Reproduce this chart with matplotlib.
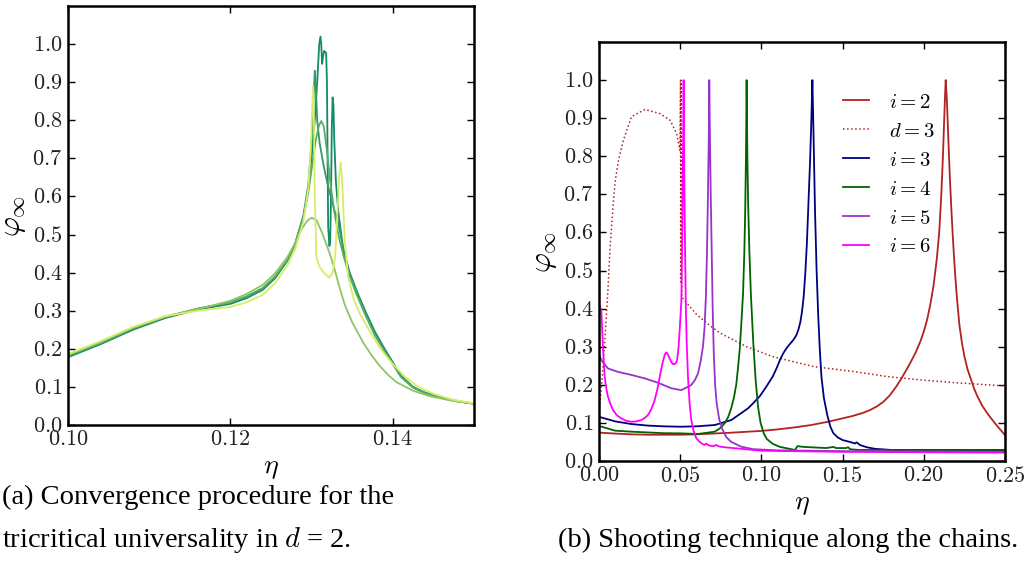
import matplotlib
matplotlib.use("Agg")
import matplotlib.pyplot as plt
from matplotlib.ticker import FuncFormatter, MultipleLocator, FixedLocator

plt.rcParams["mathtext.fontset"] = "cm"
plt.rcParams["font.family"] = ["Liberation Serif", "DejaVu Serif"]

# (a) convergence procedure, tricritical d = 2
eta_c = [0.100, 0.104, 0.108, 0.112, 0.116, 0.120, 0.122, 0.124, 0.1255, 0.127, 0.128, 0.129,
         0.1296, 0.1300, 0.1304, 0.1307, 0.13095, 0.1311, 0.1312, 0.1313, 0.1314, 0.13155,
         0.1318, 0.1319, 0.13198, 0.13205, 0.1322, 0.1323, 0.1324, 0.1325, 0.1326, 0.1327,
         0.1328, 0.1330, 0.1333, 0.1339, 0.1347, 0.1356, 0.1366, 0.1378, 0.1390, 0.1400,
         0.1410, 0.1425, 0.1440, 0.1460, 0.1480, 0.1500]
phi_c = [0.178, 0.212, 0.250, 0.281, 0.303, 0.318, 0.333, 0.355, 0.385, 0.430, 0.475, 0.545,
         0.62, 0.70, 0.80, 0.90, 1.00, 1.02, 1.00, 0.948, 0.965, 0.982,
         0.977, 0.90, 0.70, 0.52, 0.47, 0.48, 0.60, 0.78, 0.86, 0.84,
         0.75, 0.64, 0.56, 0.46, 0.40, 0.35, 0.30, 0.245, 0.20, 0.165,
         0.13, 0.10, 0.085, 0.072, 0.063, 0.056]

eta_e = [0.100, 0.104, 0.108, 0.112, 0.116, 0.120, 0.122, 0.124, 0.1255, 0.127, 0.128, 0.129,
         0.1296, 0.1300, 0.1302, 0.1304, 0.1305, 0.1307, 0.1310, 0.1315, 0.1320, 0.1326,
         0.1333, 0.1339, 0.1347, 0.1356, 0.1366, 0.1378, 0.1390, 0.1400, 0.1410, 0.1425,
         0.1440, 0.1460, 0.1480, 0.1500]
phi_e = [0.180, 0.214, 0.252, 0.283, 0.305, 0.322, 0.337, 0.358, 0.388, 0.432, 0.478, 0.55,
         0.63, 0.74, 0.83, 0.93, 0.90, 0.80, 0.74, 0.68, 0.63, 0.58,
         0.53, 0.465, 0.395, 0.345, 0.295, 0.24, 0.197, 0.163, 0.128, 0.099,
         0.084, 0.071, 0.062, 0.056]

eta_b = [0.100, 0.104, 0.108, 0.112, 0.116, 0.120, 0.122, 0.124, 0.1255, 0.127, 0.128, 0.129,
         0.1296, 0.1300, 0.1305, 0.1309, 0.1312, 0.1315, 0.1319, 0.1323, 0.1328, 0.1334,
         0.1340, 0.1347, 0.1356, 0.1366, 0.1378, 0.1390, 0.1400, 0.1410, 0.1425, 0.1440,
         0.1460, 0.1480, 0.1500]
phi_b = [0.182, 0.216, 0.254, 0.284, 0.306, 0.322, 0.338, 0.360, 0.390, 0.433, 0.477, 0.545,
         0.61, 0.67, 0.745, 0.785, 0.798, 0.785, 0.72, 0.64, 0.56, 0.49,
         0.44, 0.39, 0.34, 0.29, 0.235, 0.193, 0.16, 0.126, 0.098, 0.083,
         0.071, 0.062, 0.056]

eta_a = [0.100, 0.104, 0.108, 0.112, 0.116, 0.120, 0.122, 0.124, 0.1255, 0.127, 0.128, 0.1288,
         0.1295, 0.1300, 0.1306, 0.1312, 0.1320, 0.1327, 0.1334, 0.1341, 0.1350, 0.1364,
         0.1375, 0.1384, 0.1395, 0.1405, 0.1425, 0.1445, 0.1470, 0.1500]
phi_a = [0.184, 0.218, 0.256, 0.285, 0.304, 0.326, 0.344, 0.368, 0.398, 0.440, 0.478, 0.515,
         0.537, 0.544, 0.538, 0.51, 0.465, 0.42, 0.365, 0.315, 0.27, 0.215,
         0.18, 0.155, 0.13, 0.112, 0.09, 0.076, 0.065, 0.056]

eta_d = [0.100, 0.104, 0.108, 0.112, 0.116, 0.120, 0.122, 0.124, 0.1255, 0.127, 0.128, 0.129,
         0.1296, 0.1299, 0.1301, 0.1302, 0.1303, 0.1304, 0.1306, 0.1310, 0.1315, 0.1322,
         0.1326, 0.1329, 0.1332, 0.1334, 0.1336, 0.1338, 0.1341, 0.1345, 0.1352, 0.1360,
         0.1372, 0.1385, 0.1400, 0.1415, 0.1430, 0.1450, 0.1475, 0.1500]
phi_d = [0.186, 0.220, 0.257, 0.286, 0.300, 0.310, 0.322, 0.342, 0.372, 0.418, 0.462, 0.535,
         0.62, 0.72, 0.84, 0.89, 0.80, 0.60, 0.44, 0.415, 0.40, 0.387,
         0.40, 0.44, 0.56, 0.65, 0.689, 0.63, 0.48, 0.39, 0.33, 0.29,
         0.245, 0.20, 0.16, 0.127, 0.102, 0.082, 0.066, 0.057]

# (b) shooting technique along the chains
eta_i2 = [0.000, 0.010, 0.020, 0.030, 0.040, 0.050, 0.060, 0.070, 0.080, 0.092, 0.100, 0.110,
          0.120, 0.130, 0.141, 0.148, 0.156, 0.163, 0.167, 0.171, 0.175, 0.179, 0.183, 0.186,
          0.189, 0.192, 0.195, 0.198, 0.200, 0.202, 0.204, 0.206, 0.208, 0.2095, 0.2108,
          0.2118, 0.2126, 0.2131, 0.2135, 0.2142, 0.2150, 0.2160, 0.2170, 0.2180, 0.2190,
          0.2200, 0.2210, 0.2220, 0.2235, 0.2250, 0.2270, 0.2290, 0.2310, 0.2330, 0.2360,
          0.2400, 0.2450, 0.2500]
phi_i2 = [0.0745, 0.072, 0.070, 0.069, 0.069, 0.069, 0.070, 0.072, 0.074, 0.077, 0.079, 0.083,
          0.088, 0.094, 0.103, 0.110, 0.118, 0.127, 0.134, 0.143, 0.155, 0.172, 0.195, 0.215,
          0.237, 0.26, 0.285, 0.315, 0.34, 0.37, 0.41, 0.46, 0.53, 0.60, 0.70,
          0.80, 0.90, 0.96, 1.00, 0.95, 0.86, 0.75, 0.66, 0.58, 0.51,
          0.45, 0.40, 0.355, 0.31, 0.275, 0.24, 0.215, 0.19, 0.17, 0.145,
          0.12, 0.093, 0.068]

eta_d3 = [0.0005, 0.002, 0.0037, 0.0055, 0.0068, 0.0085, 0.0098, 0.012, 0.015, 0.020, 0.0283,
          0.0375, 0.0437, 0.0478, 0.0498, 0.0502, 0.0503, 0.0505, 0.0510, 0.054, 0.060,
          0.0663, 0.0745, 0.0909, 0.107, 0.132, 0.1566, 0.177, 0.198, 0.218, 0.250]
phi_d3 = [0.15, 0.22, 0.325, 0.45, 0.56, 0.66, 0.73, 0.79, 0.842, 0.904, 0.923,
          0.912, 0.895, 0.86, 0.816, 1.00, 0.47, 1.00, 0.43, 0.415, 0.385,
          0.362, 0.336, 0.30, 0.274, 0.248, 0.235, 0.222, 0.213, 0.206, 0.197]

eta_i3 = [0.000, 0.010, 0.020, 0.030, 0.040, 0.050, 0.060, 0.0713, 0.0815, 0.0917, 0.095,
          0.099, 0.103, 0.107, 0.1095, 0.1115, 0.1135, 0.1156, 0.1177, 0.1197, 0.1215,
          0.1228, 0.1240, 0.1250, 0.1260, 0.1270, 0.1280, 0.1290, 0.1300, 0.1308, 0.1314,
          0.1320, 0.1325, 0.1330, 0.1340, 0.1350, 0.1360, 0.1370, 0.1385, 0.1406, 0.1425,
          0.1443, 0.1470, 0.1500, 0.1546, 0.1576, 0.1587, 0.1607, 0.1650, 0.1700, 0.1800,
          0.2000, 0.2500]
phi_i3 = [0.116, 0.104, 0.097, 0.093, 0.091, 0.090, 0.091, 0.0945, 0.1076, 0.138, 0.152,
          0.170, 0.195, 0.222, 0.245, 0.266, 0.283, 0.297, 0.308, 0.318, 0.330,
          0.345, 0.365, 0.392, 0.43, 0.49, 0.57, 0.68, 0.79, 0.90, 1.00,
          0.88, 0.77, 0.66, 0.50, 0.38, 0.29, 0.22, 0.165, 0.12, 0.09,
          0.073, 0.062, 0.055, 0.050, 0.046, 0.049, 0.042, 0.036, 0.032, 0.029,
          0.029, 0.029]

eta_i4 = [0.000, 0.010, 0.020, 0.030, 0.040, 0.050, 0.061, 0.0713, 0.0745, 0.0774, 0.0795,
          0.0815, 0.0830, 0.0845, 0.0856, 0.0866, 0.0875, 0.0887, 0.0895, 0.0900, 0.0905,
          0.0909, 0.0913, 0.0918, 0.0926, 0.0935, 0.0950, 0.0965, 0.0980, 0.0995, 0.1015,
          0.1033, 0.1070, 0.1115, 0.1207, 0.1222, 0.1260, 0.1400, 0.1443, 0.1460, 0.1520,
          0.1535, 0.1545, 0.1600, 0.2500]
phi_i4 = [0.092, 0.0796, 0.077, 0.075, 0.073, 0.0726, 0.071, 0.077, 0.086, 0.099, 0.115,
          0.14, 0.165, 0.20, 0.245, 0.29, 0.35, 0.44, 0.55, 0.65, 0.80,
          1.00, 0.82, 0.68, 0.55, 0.44, 0.31, 0.21, 0.14, 0.10, 0.072,
          0.058, 0.045, 0.037, 0.029, 0.039, 0.037, 0.034, 0.037, 0.034, 0.034,
          0.036, 0.031, 0.029, 0.029]

eta_i5 = [0.000, 0.0014, 0.0055, 0.0117, 0.0199, 0.0281, 0.0363, 0.0445, 0.0507, 0.0568,
          0.0590, 0.0610, 0.0625, 0.0640, 0.0650, 0.0658, 0.0665, 0.0671, 0.0676, 0.0679,
          0.0683, 0.0688, 0.0694, 0.0700, 0.0707, 0.0715, 0.0725, 0.0740, 0.0760, 0.0785,
          0.0815, 0.0876, 0.0950, 0.1100, 0.1500, 0.2500]
phi_i5 = [0.28, 0.265, 0.243, 0.234, 0.226, 0.217, 0.2055, 0.191, 0.186, 0.1995,
          0.212, 0.23, 0.26, 0.30, 0.35, 0.43, 0.55, 0.70, 0.85, 1.00,
          0.85, 0.70, 0.55, 0.40, 0.28, 0.20, 0.15, 0.11, 0.083, 0.062,
          0.050, 0.0376, 0.031, 0.028, 0.026, 0.024]

eta_i6 = [0.000, 0.0014, 0.0020, 0.0025, 0.0035, 0.0045, 0.0055, 0.0070, 0.0086, 0.0110,
          0.0137, 0.0165, 0.0199, 0.0230, 0.0260, 0.0285, 0.0302, 0.0323, 0.0343, 0.0360,
          0.0374, 0.0390, 0.0404, 0.0413, 0.0420, 0.0432, 0.0445, 0.0456, 0.0466, 0.0475,
          0.0482, 0.0490, 0.0497, 0.0507, 0.0513, 0.0521, 0.0525, 0.0530, 0.0535, 0.0540,
          0.0548, 0.0558, 0.0568, 0.0583, 0.0599, 0.0620, 0.0640, 0.0650, 0.0660, 0.0675,
          0.0702, 0.0722, 0.0740, 0.0774, 0.0876, 0.1000, 0.1500, 0.2500]
phi_i6 = [0.41, 0.396, 0.34, 0.29, 0.221, 0.19, 0.169, 0.15, 0.134, 0.12,
          0.112, 0.106, 0.103, 0.104, 0.1076, 0.114, 0.121, 0.137, 0.16, 0.19,
          0.221, 0.255, 0.278, 0.285, 0.283, 0.272, 0.26, 0.254, 0.2546, 0.258,
          0.268, 0.30, 0.345, 0.42, 0.607, 1.00, 0.75, 0.55, 0.40, 0.31,
          0.22, 0.15, 0.108, 0.078, 0.06, 0.05, 0.044, 0.042, 0.046, 0.041,
          0.039, 0.042, 0.038, 0.036, 0.032, 0.027, 0.024, 0.022]

fig = plt.figure(figsize=(10.28, 5.66), dpi=100)
ax1 = fig.add_axes([0.0661, 0.2491, 0.3949, 0.7403])
ax2 = fig.add_axes([0.5827, 0.1855, 0.3949, 0.7403])

cmap = plt.get_cmap("summer")
ax1.plot(eta_c, phi_c, color=cmap(0.08), lw=1.3)
ax1.plot(eta_e, phi_e, color=cmap(0.2), lw=1.3)
ax1.plot(eta_b, phi_b, color=cmap(0.35), lw=1.3)
ax1.plot(eta_a, phi_a, color=cmap(0.55), lw=1.3)
ax1.plot(eta_d, phi_d, color=cmap(0.85), lw=1.3)

ax2.plot(eta_i2, phi_i2, color="#b22222", lw=1.3, label="$i = 2$")
ax2.plot(eta_d3, phi_d3, color="#b22222", lw=1.1, ls=":", label="$d = 3$")
ax2.plot(eta_i3, phi_i3, color="#000080", lw=1.3, label="$i = 3$")
ax2.plot(eta_i4, phi_i4, color="#006400", lw=1.3, label="$i = 4$")
ax2.plot(eta_i5, phi_i5, color="#9932cc", lw=1.3, label="$i = 5$")
ax2.plot(eta_i6, phi_i6, color="#ff00ff", lw=1.3, label="$i = 6$")

fmt_x = FuncFormatter(lambda v, p: f"${v:.2f}$")
fmt_y = FuncFormatter(lambda v, p: f"${v:.1f}$")
y_ticks = [0.0, 0.1, 0.2, 0.3, 0.4, 0.5, 0.6, 0.7, 0.8, 0.9, 1.0]

ax1.set_xlim(0.10, 0.15)
ax1.xaxis.set_major_locator(MultipleLocator(0.02))
ax2.set_xlim(0.0, 0.25)
ax2.xaxis.set_major_locator(MultipleLocator(0.05))

for ax in (ax1, ax2):
    ax.set_ylim(0.0, 1.1)
    ax.yaxis.set_major_locator(FixedLocator(y_ticks))
    ax.xaxis.set_major_formatter(fmt_x)
    ax.yaxis.set_major_formatter(fmt_y)
    ax.tick_params(direction="in", length=5, width=1, labelsize=16, pad=4,
                   top=True, right=True, labelcolor="#222222")
    for sp in ax.spines.values():
        sp.set_linewidth(1.8)
    ax.set_xlabel(r"$\eta$", fontsize=20)
    ax.set_ylabel(r"$\varphi_\infty$", fontsize=22)
    ax.xaxis.set_label_coords(0.5, -0.075)
    ax.yaxis.set_label_coords(-0.098, 0.5)

ax2.legend(loc="upper left", bbox_to_anchor=(0.60, 0.878), frameon=False, fontsize=15,
           handlelength=1.25, handletextpad=1.0, labelspacing=0.45, borderpad=0,
           borderaxespad=0)

fig.text(0.002, 0.122, "(a) Convergence procedure for the", fontsize=20.5, va="center")
fig.text(0.002, 0.046, "tricritical universality in $d$ = 2.", fontsize=20.5, va="center")
fig.text(0.543, 0.046, "(b) Shooting technique along the chains.", fontsize=20.5, va="center")

fig.savefig("out.png", dpi=100)
